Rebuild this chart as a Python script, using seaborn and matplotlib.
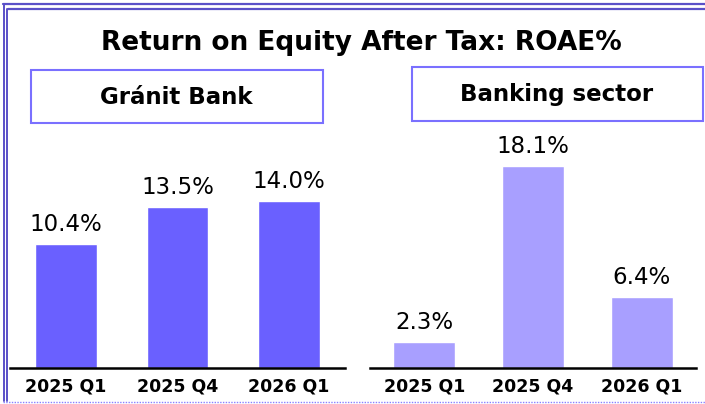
import matplotlib
matplotlib.use("Agg")
import matplotlib.pyplot as plt
import seaborn as sns
import pandas as pd
from matplotlib.lines import Line2D
from matplotlib.patches import Rectangle

quarters = ["2025 Q1", "2025 Q4", "2026 Q1"]
granit_roae = [10.4, 13.5, 14.0]
sector_roae = [2.3, 18.1, 6.4]
title = "Return on Equity After Tax: ROAE%"
panel_titles = ["Gránit Bank", "Banking sector"]

sns.set_theme(style="white")
plt.rcParams["font.family"] = ["DejaVu Sans"]

W, H = 705, 404
fig = plt.figure(figsize=(W / 100, H / 100), dpi=100)


def fx(px):
    return px / W


def fy(px):
    return 1 - px / H


# axes placement in pixels: left, right, top, bottom(baseline)
panels = [
    (10, 345, 130, 368, granit_roae, "#6a60ff", 0.555, 238 / 11.9),
    (370, 696, 130, 368, sector_roae, "#a89fff", 0.57, 238 / 11.15),
]

for (l, r, t, b, vals, col, bw, ytop) in panels:
    ax = fig.add_axes([fx(l), fy(b), fx(r - l), (b - t) / H])
    df = pd.DataFrame({"quarter": quarters, "roae": vals})
    sns.barplot(data=df, x="quarter", y="roae", color=col, saturation=1,
                width=bw, ax=ax)
    ax.set_ylim(0, ytop)
    ax.set_xlim(-0.5, 2.5)
    ax.set_xlabel("")
    ax.set_ylabel("")
    ax.set_yticks([])
    for s in ["left", "right", "top"]:
        ax.spines[s].set_visible(False)
    ax.spines["bottom"].set_color("black")
    ax.spines["bottom"].set_linewidth(1.8)
    ax.tick_params(axis="x", length=0, pad=7)
    for lab in ax.get_xticklabels():
        lab.set_fontweight("bold")
        lab.set_fontsize(12.5)
        lab.set_color("black")
    per_px = ytop / 238
    for i, v in enumerate(vals):
        ax.text(i, v + 8 * per_px, f"{v:.1f}%", ha="center", va="bottom",
                fontsize=16.5, color="black")
    ax.patch.set_alpha(0)

# title
fig.text(fx(361), fy(43), title, ha="center", va="center",
         fontsize=19, fontweight="bold", color="black")

# panel title boxes
boxes = [(31, 323, 70, 123, 176), (412, 703, 67, 121, 557)]
for (l, r, t, b, cx), txt in zip(boxes, panel_titles):
    fig.add_artist(Rectangle((fx(l), fy(b)), fx(r - l), (b - t) / H,
                             transform=fig.transFigure, fill=False,
                             edgecolor="#7a70ff", linewidth=1.5))
    fig.text(fx(cx), fy((t + b) / 2 + 1), txt, ha="center", va="center",
             fontsize=16.5, fontweight="bold", color="black")

# outer double border (top and left) and dotted bottom line
bc = "#5a50c8"
for p in [4, 9]:
    fig.add_artist(Line2D([fx(p - 1), 1], [fy(p), fy(p)],
                          transform=fig.transFigure, color=bc, lw=1.6))
for p in [3.5, 6.5]:
    start = 4 if p < 5 else 9
    fig.add_artist(Line2D([fx(p), fx(p)], [fy(start), fy(401)],
                          transform=fig.transFigure, color=bc, lw=1.4))
fig.add_artist(Line2D([fx(3), 1], [fy(401.5), fy(401.5)],
                      transform=fig.transFigure, color="#8a80ff", lw=1.0,
                      linestyle=(0, (1, 1))))

fig.savefig("out.png", dpi=100)
